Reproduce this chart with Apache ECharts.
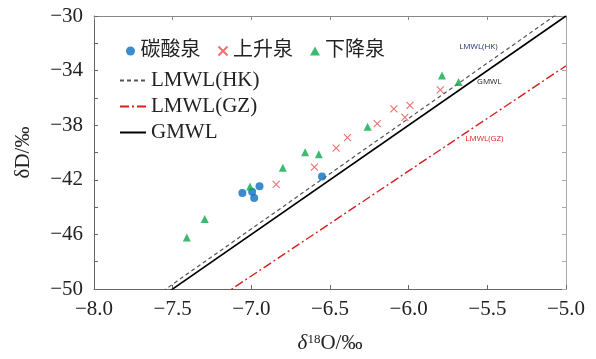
<!DOCTYPE html>
<html>
<head>
<meta charset="utf-8">
<script src="https://cdn.jsdelivr.net/npm/echarts@6/dist/echarts.min.js"></script>
<style>
  html, body { margin: 0; padding: 0; background: #fff; }
  #main { width: 596px; height: 359px; }
</style>
</head>
<body>
<div id="main"></div>
<script>
// 碳酸泉 (δ18O, δD)
var carbO = [-7.057, -6.995, -6.948, -6.982, -6.551];
var carbD = [-42.97, -42.87, -42.47, -43.33, -41.75];
// 上升泉
var riseO = [-6.842, -6.599, -6.461, -6.389, -6.200, -6.094, -5.992, -6.024, -5.799];
var riseD = [-42.33, -41.07, -39.68, -38.91, -37.88, -36.80, -36.54, -37.43, -35.41];
// 下降泉
var fallO = [-7.410, -7.296, -7.008, -6.800, -6.658, -6.571, -6.261, -5.788, -5.683];
var fallD = [-46.23, -44.87, -42.49, -41.12, -39.99, -40.12, -38.12, -34.36, -34.84];

// meteoric water lines: slope, intercept
var lineNames = ['LMWL(HK)', 'LMWL(GZ)', 'GMWL'];
var lineSlopes = [8.1, 7.7, 8.0];
var lineIntercepts = [11.1, 4.85, 10.0];
// label anchor for each line (δ18O, δD)
var lineLabelO = [-5.557, -5.519, -5.487];
var lineLabelD = [-32.27, -38.96, -34.79];

var xTicks = [-8.0, -5.0];
var yRange = [-50, -30];

function pairs(a, b) {
  return a.map(function (v, i) { return [v, b[i]]; });
}
function minus(s) { return String(s).replace('-', '\u2212'); }

var serif = 'Liberation Serif, Times New Roman, serif';
var cjk = 'Liberation Serif, Noto Sans CJK SC, serif';

var lineStyles = [
  { color: '#555', width: 1.2, type: [4, 3] },
  { color: '#d81e1e', width: 1.4, type: [9, 3, 2, 3] },
  { color: '#000', width: 1.6, type: 'solid' }
];
var labelColors = ['#1f2d6b', '#d81e1e', '#222'];

var lineSeries = lineNames.map(function (n, i) {
  var d = xTicks.map(function (x) { return [x, lineSlopes[i] * x + lineIntercepts[i]]; });
  return {
    name: n,
    type: 'line',
    data: d,
    symbol: 'none',
    clip: true,
    silent: true,
    lineStyle: lineStyles[i],
    itemStyle: { color: lineStyles[i].color },
    z: 2,
    markPoint: {
      symbol: 'circle',
      symbolSize: 0,
      silent: true,
      label: {
        show: true,
        position: 'inside',
        formatter: n,
        fontFamily: 'Open Sans, DejaVu Sans, sans-serif',
        fontSize: 8,
        color: labelColors[i]
      },
      data: [{ coord: [lineLabelO[i], lineLabelD[i]] }]
    }
  };
});

var cross = 'path://M0,0L10,10M10,0L0,10';

var chart = echarts.init(document.getElementById('main'));
chart.setOption({
  animation: false,
  backgroundColor: '#fff',
  grid: { left: 94, right: 30, top: 16, bottom: 66 },
  legend: [
    {
      data: [
        { name: '碳酸泉', icon: 'circle' },
        { name: '上升泉', icon: cross },
        { name: '下降泉', icon: 'triangle' }
      ],
      orient: 'horizontal',
      left: 121,
      top: 36,
      itemWidth: 10,
      itemHeight: 9,
      itemGap: 17,
      textStyle: { fontFamily: cjk, fontSize: 20, color: '#222' }
    },
    {
      data: lineNames,
      orient: 'vertical',
      left: 114,
      top: 65,
      itemWidth: 26,
      itemHeight: 12,
      itemGap: 5,
      itemStyle: { opacity: 0 },
      textStyle: { fontFamily: serif, fontSize: 21, color: '#222' }
    }
  ],
  xAxis: [
    {
      type: 'value',
      min: -8, max: -5, interval: 0.5,
      name: '{i|δ}{s|18}{n|O/‰}',
      nameLocation: 'middle',
      nameGap: 44,
      nameTextStyle: {
        rich: {
          i: { fontFamily: serif, fontStyle: 'italic', fontSize: 21, color: '#222' },
          s: { fontFamily: serif, fontSize: 13, color: '#222', verticalAlign: 'top', lineHeight: 12 },
          n: { fontFamily: serif, fontSize: 21, color: '#222' }
        }
      },
      axisLine: { lineStyle: { color: '#666', width: 1 } },
      axisTick: { inside: true, length: 4, lineStyle: { color: '#666' } },
      axisLabel: {
        fontFamily: serif, fontSize: 21, color: '#222', margin: 10,
        formatter: function (v) { return minus(v.toFixed(1)); }
      },
      splitLine: { show: false }
    },
    {
      type: 'value',
      position: 'top',
      min: -8, max: -5, interval: 0.5,
      axisLine: { show: true, lineStyle: { color: '#888', width: 1 } },
      axisTick: { show: true, inside: true, length: 4, lineStyle: { color: '#888' } },
      axisLabel: { show: false },
      splitLine: { show: false }
    }
  ],
  yAxis: [
    {
      type: 'value',
      min: yRange[0], max: yRange[1], interval: 2,
      name: 'δD/‰',
      nameLocation: 'middle',
      nameGap: 60,
      nameTextStyle: { fontFamily: serif, fontSize: 21, color: '#222' },
      axisLine: { show: true, lineStyle: { color: '#666', width: 1 } },
      axisTick: { show: true, inside: true, length: 4, lineStyle: { color: '#666' } },
      axisLabel: {
        fontFamily: serif, fontSize: 21, color: '#222', margin: 11,
        formatter: function (v) { return (v + 30) % 4 === 0 ? minus(v) : ''; }
      },
      splitLine: { show: false }
    },
    {
      type: 'value',
      position: 'right',
      min: yRange[0], max: yRange[1], interval: 2,
      axisLine: { show: true, lineStyle: { color: '#aaa', width: 1 } },
      axisTick: { show: true, inside: true, length: 4, lineStyle: { color: '#aaa' } },
      axisLabel: { show: false },
      splitLine: { show: false }
    }
  ],
  series: lineSeries.concat([
    {
      name: '碳酸泉',
      type: 'scatter',
      symbol: 'circle',
      symbolSize: 8,
      itemStyle: { color: '#0a6fc2' },
      data: pairs(carbO, carbD),
      z: 5
    },
    {
      name: '上升泉',
      type: 'scatter',
      symbol: cross,
      symbolSize: 7,
      itemStyle: { color: '#ee4b4b', borderColor: '#ee4b4b', borderWidth: 1.1 },
      data: pairs(riseO, riseD),
      z: 5
    },
    {
      name: '下降泉',
      type: 'scatter',
      symbol: 'triangle',
      symbolSize: 8,
      itemStyle: { color: '#0da74d' },
      data: pairs(fallO, fallD),
      z: 5
    }
  ])
});
</script>
</body>
</html>
